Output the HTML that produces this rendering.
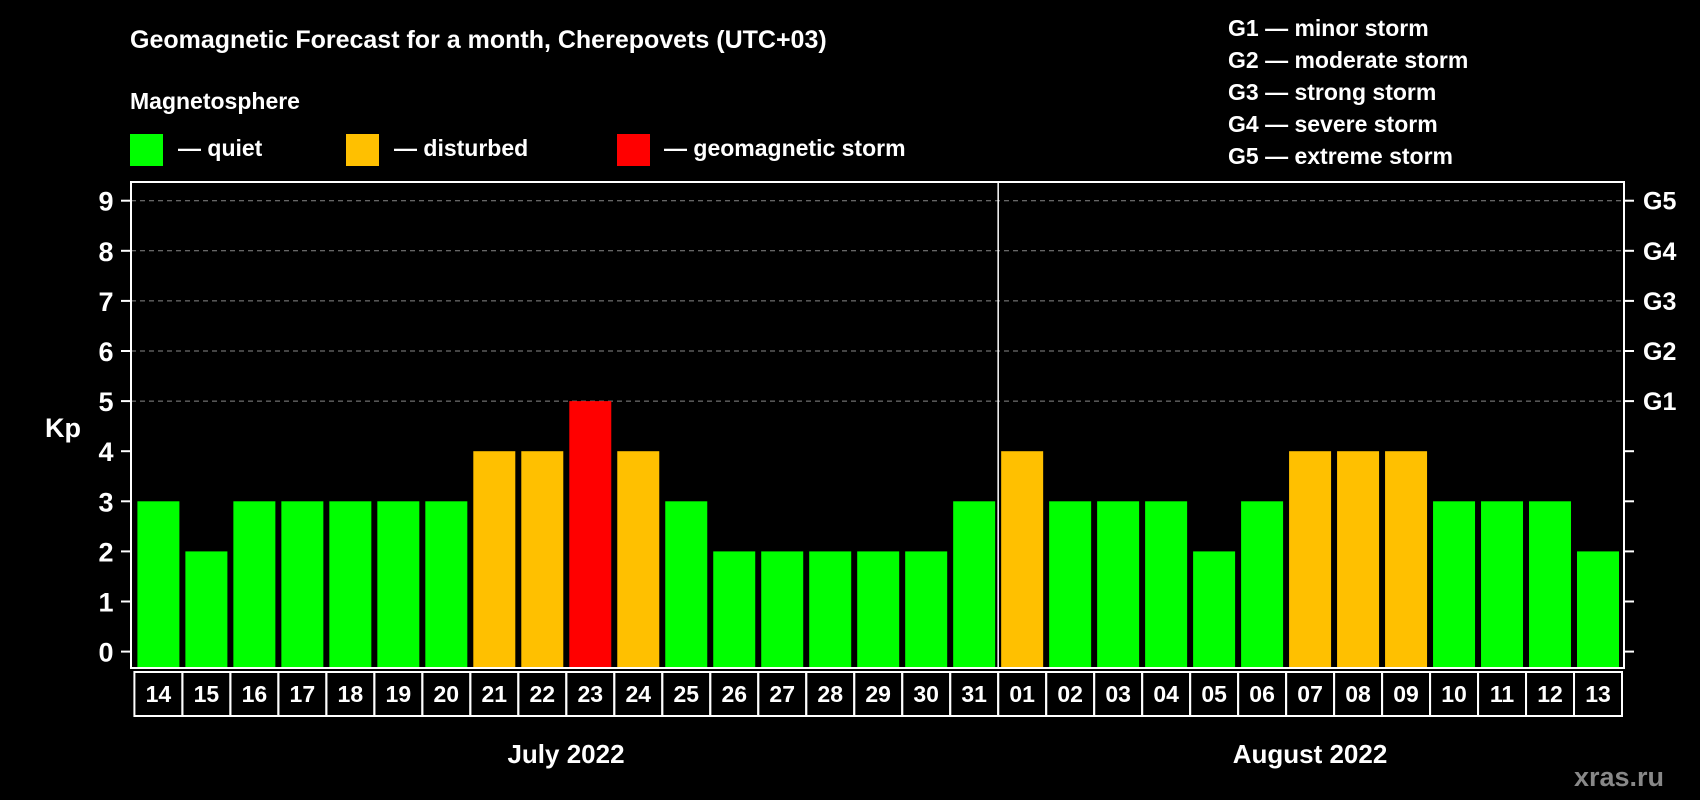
<!DOCTYPE html>
<html><head><meta charset="utf-8"><style>
html,body{margin:0;padding:0;background:#000;}
svg{display:block;font-family:"Liberation Sans",Arial,sans-serif;font-weight:bold;}
</style></head><body>
<svg id="chart" width="1700" height="800" viewBox="0 0 1700 800">
<rect width="1700" height="800" fill="#000"/>
<text x="130" y="48" fill="#fff" font-size="25">Geomagnetic Forecast for a month, Cherepovets (UTC+03)</text>
<text x="130" y="109" fill="#fff" font-size="23">Magnetosphere</text>
<g><rect x="130" y="134" width="33" height="32" fill="#00ff00"/><text x="178" y="156" fill="#fff" font-size="23">— quiet</text></g>
<g><rect x="346" y="134" width="33" height="32" fill="#ffc000"/><text x="394" y="156" fill="#fff" font-size="23">— disturbed</text></g>
<g><rect x="617" y="134" width="33" height="32" fill="#ff0000"/><text x="664" y="156" fill="#fff" font-size="23">— geomagnetic storm</text></g>
<g fill="#fff" font-size="23">
<text x="1228" y="36">G1 — minor storm</text>
<text x="1228" y="68">G2 — moderate storm</text>
<text x="1228" y="100">G3 — strong storm</text>
<text x="1228" y="132">G4 — severe storm</text>
<text x="1228" y="164">G5 — extreme storm</text>
</g>
<text x="63" y="437" fill="#fff" font-size="27" text-anchor="middle">Kp</text>
<g id="grid"></g><g id="bars"></g><g id="axes"></g>
<text x="566" y="763" fill="#fff" font-size="26" text-anchor="middle">July 2022</text>
<text x="1310" y="763" fill="#fff" font-size="26" text-anchor="middle">August 2022</text>
<text x="1664" y="786" fill="#888" font-size="27" text-anchor="end">xras.ru</text>
</svg>
<script>
const days = ["14","15","16","17","18","19","20","21","22","23","24","25","26","27","28","29","30","31","01","02","03","04","05","06","07","08","09","10","11","12","13"];
const kp = [3,2,3,3,3,3,3,4,4,5,4,3,2,2,2,2,2,3,4,3,3,3,2,3,4,4,4,3,3,3,2];
const yTicks = [0,1,2,3,4,5,6,7,8,9];
const gLabels = ["G1","G2","G3","G4","G5"];
const gLevels = [5,6,7,8,9];
const monthSplitIndex = 18;

const NS="http://www.w3.org/2000/svg";
const PL=131, PR=1624, PT=182, PB=668, SL=134.4, SR=1622;
const slot=(SR-SL)/days.length;
const x=i=>SL+slot*(i+0.5);
const y=v=>651.6-v*50.1;
function mk(tag,attrs,parent){const e=document.createElementNS(NS,tag);for(const k in attrs)e.setAttribute(k,attrs[k]);parent.appendChild(e);return e;}
const grid=document.getElementById('grid'),bars=document.getElementById('bars'),axes=document.getElementById('axes');
gLevels.forEach((v,i)=>{
  const l=mk('line',{x1:PL,x2:PR,y1:y(v),y2:y(v),stroke:'#888','stroke-width':1,'stroke-dasharray':'5,4'},grid);
  
  
  const t=mk('text',{x:1643,y:y(v)+9,fill:'#fff','font-size':25},axes);
  t.textContent=gLabels[i];
  
  
});
kp.forEach((v,i)=>{
  const c=v>=5?'#ff0000':(v>=4?'#ffc000':'#00ff00');
  const r=mk('rect',{x:x(i)-21,width:42,y:y(v),height:PB-1-y(v),fill:c},bars);
  
  
  const b=mk('rect',{x:SL+slot*i,y:672,width:slot,height:44,fill:'none',stroke:'#fff','stroke-width':2},axes);
  
  
  const t=mk('text',{x:x(i),y:702,fill:'#fff','font-size':23,'text-anchor':'middle'},axes);
  t.textContent=days[i];
  
  
});
const frame=mk('rect',{x:PL,y:PT,width:PR-PL,height:PB-PT,fill:'none',stroke:'#fff','stroke-width':2},axes);


const dv=mk('line',{x1:SL+slot*monthSplitIndex,x2:SL+slot*monthSplitIndex,y1:PT,y2:PB,stroke:'#fff','stroke-width':1.5},axes);


yTicks.forEach(v=>{
  mk('line',{x1:PL-10,x2:PL,y1:y(v),y2:y(v),stroke:'#fff','stroke-width':2},axes);
  mk('line',{x1:PR,x2:PR+10,y1:y(v),y2:y(v),stroke:'#fff','stroke-width':2},axes);
  const t=mk('text',{x:106,y:y(v)+10,fill:'#fff','font-size':27,'text-anchor':'middle'},axes);
  t.textContent=v;
  
  
});
</script>
</body></html>
